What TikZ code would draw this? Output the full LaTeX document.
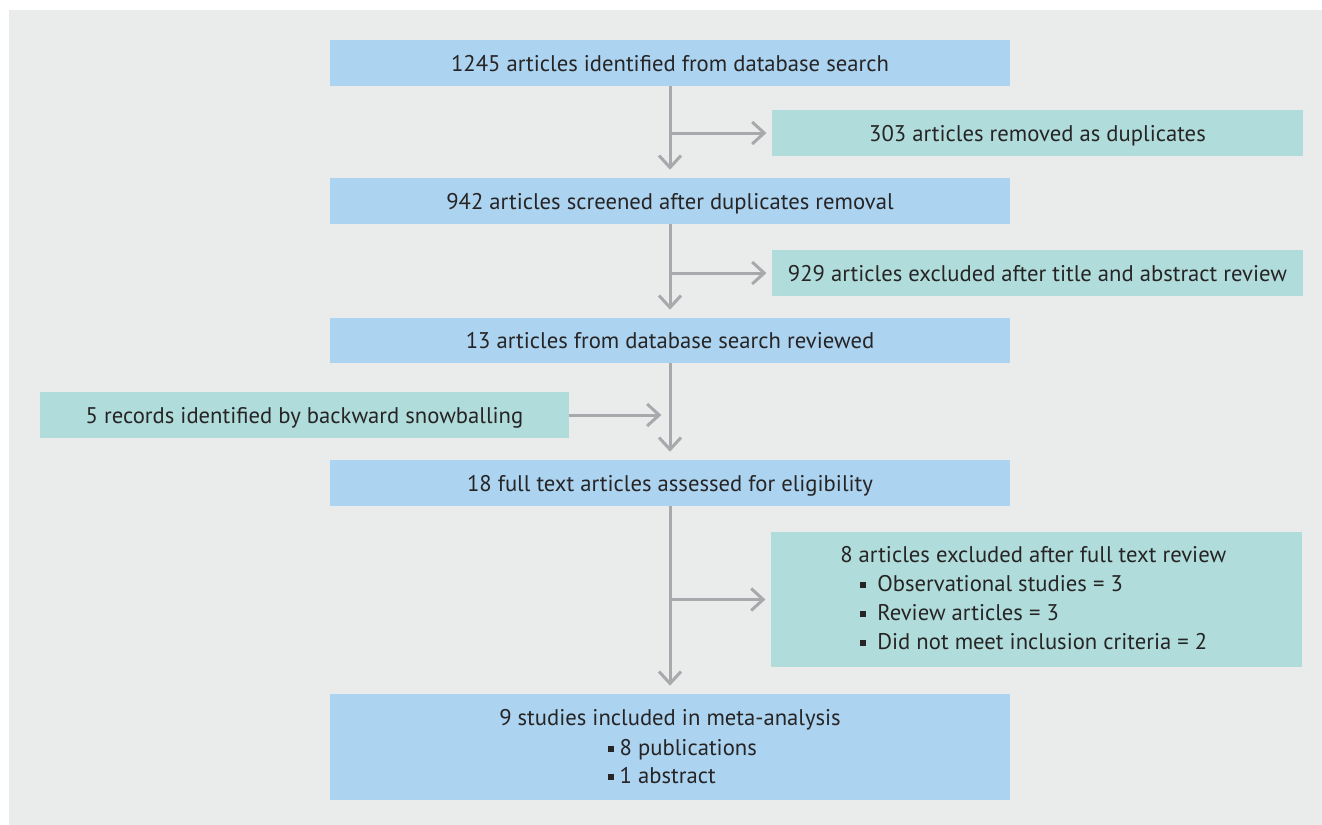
\documentclass[tikz,border=0pt]{standalone}
\usepackage{fontspec}
\setmainfont{PT Sans}
\usetikzlibrary{arrows.meta}
\definecolor{bgc}{RGB}{234,236,235}
\definecolor{bluec}{RGB}{172,211,239}
\definecolor{tealc}{RGB}{176,221,219}
\definecolor{arrc}{RGB}{167,169,172}
\definecolor{txtc}{RGB}{38,36,37}
\newcommand{\sqb}{\rule[2.2pt]{4.6pt}{4.6pt}}
\begin{document}
\begin{tikzpicture}[x=0.75pt,y=-0.75pt,
  font=\fontsize{17}{20}\selectfont, text=txtc,
  box/.style={inner sep=0pt, minimum height=46*0.75pt, text height=12pt, text depth=0pt},
  bluebox/.style={box, fill=bluec, minimum width=680*0.75pt},
  tealbox/.style={box, fill=tealc, minimum width=531*0.75pt},
  ln/.style={draw=arrc, line width=2.25pt},
  arr/.style={ln, -{Straight Barb[length=9pt,width=16.5pt]}},
  lbl/.style={inner sep=0pt, anchor=base west}]
\useasboundingbox (0,0) rectangle (1322,825);
\fill[bgc] (9,10) rectangle (1322,825);
\node[bluebox] (b1) at (670,63) {1245 articles identified from database search};
\node[tealbox] (b2) at (1037.5,133) {303 articles removed as duplicates};
\node[bluebox] (b3) at (670,201) {942 articles screened after duplicates removal};
\node[tealbox] (b4) at (1037.5,273) {929 articles excluded after title and abstract review};
\node[bluebox, minimum height=45*0.75pt] (b5) at (670,340.5) {13 articles from database search reviewed};
\node[tealbox, minimum width=529*0.75pt] (b6) at (304.5,415) {5 records identified by backward snowballing};
\node[bluebox] (b7) at (670,483) {18 full text articles assessed for eligibility};
\node[tealbox, minimum height=135*0.75pt] (b8) at (1036.5,599.5) {};
\node[bluebox, minimum height=106*0.75pt] (b9) at (670,747) {};
% texts of box 8
\node[lbl] (t8a) at (840,562) {8 articles excluded after full text review};
\node[lbl] (t8b) at (860,591) {\sqb\hspace{8.2pt}Observational studies = 3};
\node[lbl] (t8c) at (860,620) {\sqb\hspace{8.2pt}Review articles = 3};
\node[lbl] (t8d) at (860,649) {\sqb\hspace{8.2pt}Did not meet inclusion criteria = 2};
% texts of box 9
\node[inner sep=0pt, anchor=base] (t9a) at (670,725) {9 studies included in meta-analysis};
\node[lbl] (t9b) at (608,755) {\sqb\hspace{4pt}8 publications};
\node[lbl] (t9c) at (608,783) {\sqb\hspace{4pt}1 abstract};
% connectors
\coordinate (j1) at (b1.south |- b2.west);
\coordinate (j2) at (b3.south |- b4.west);
\coordinate (j3) at (b7.south |- b8.west);
\coordinate (j4) at (b5.south |- b6.east);
\draw[arr, shorten >=6pt] (b1.south) -- (b3.north);
\draw[arr, shorten >=4pt] (j1) -- (b2.west);
\draw[arr, shorten >=6pt] (b3.south) -- (b5.north);
\draw[arr, shorten >=4pt] (j2) -- (b4.west);
\draw[arr, shorten >=6pt] (b5.south) -- (b7.north);
\draw[arr, shorten >=6.5pt] (b6.east) -- (j4);
\draw[arr, shorten >=6pt] (b7.south) -- (b9.north);
\draw[arr, shorten >=4pt] (j3) -- (b8.west);
\end{tikzpicture}
\end{document}
